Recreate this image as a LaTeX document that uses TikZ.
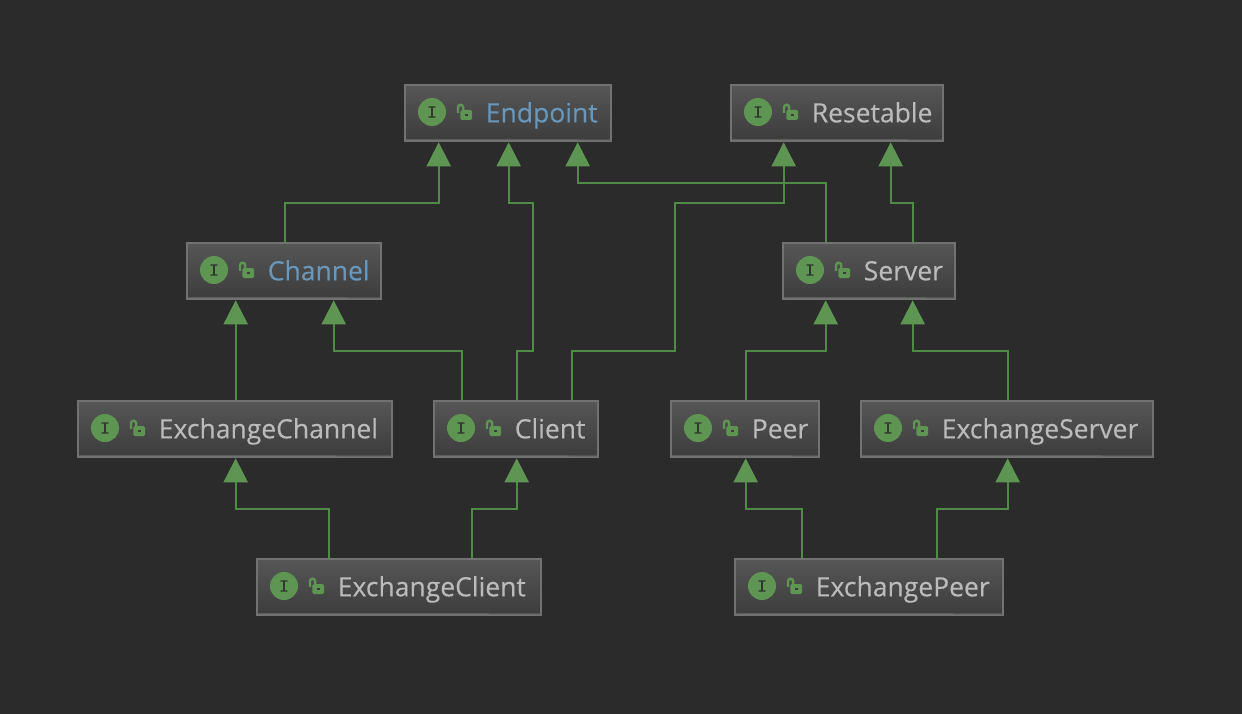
\documentclass[tikz,border=0pt]{standalone}
\usepackage{fontspec}
\setmainfont{Open Sans}
\newfontfamily\labelfont[FakeBold=0.25]{Open Sans}
\newfontfamily\iconfont[FakeBold=0.4]{Liberation Mono}
\usetikzlibrary{arrows.meta}
\definecolor{bgc}{HTML}{2B2B2B}
\definecolor{boxtop}{HTML}{565656}
\definecolor{boxbot}{HTML}{3C3C3C}
\definecolor{boxline}{HTML}{727272}
\definecolor{boxinner}{HTML}{5E5E5E}
\definecolor{plain}{HTML}{BBBBBB}
\definecolor{blueish}{HTML}{6897BB}
\definecolor{greenfill}{HTML}{5F9553}
\definecolor{greenline}{HTML}{4F8A46}
\definecolor{icondark}{HTML}{2F3A2C}
\tikzset{
  umlbox/.style={draw=boxline,line width=2pt,top color=boxtop,bottom color=boxbot,
    anchor=north west,minimum height=56pt,inner sep=0pt},
  iconmark/.style={circle,fill=greenfill,minimum size=28pt,inner sep=0pt,
    text=icondark,font=\iconfont\fontsize{17pt}{17pt}\selectfont},
  umllabel/.style={anchor=base west,inner sep=0pt,font=\labelfont\fontsize{26.5pt}{30pt}\selectfont},
  conn/.style={draw=greenline,line width=2.2pt,-{Triangle[width=24pt,length=24pt,color=greenfill]}},
}
\newcommand{\umlnode}[6]{%
  % name, left, top, width, label, colour
  \node[umlbox,minimum width=#4pt+2pt] (#1) at (#2-.7,#3-.7) {};
  \draw[boxinner,line width=1pt] ([shift={(2,55.2)}]#1.north west) -- ([shift={(-2,-2.5)}]#1.south east);
  \node[iconmark] (#1-icon) at ([shift={(27.7,27.7)}]#1.north west) {I};
  \draw[greenfill,line width=2.4pt] ([shift={(53.7,28.5)}]#1.north west)
     -- ++(0,-5.5) arc[start angle=180,end angle=0,radius=2.6pt] -- ++(0,3);
  \fill[greenfill,rounded corners=1.5pt] ([shift={(56,25.7)}]#1.north west) rectangle ++(11.7,10);
  \fill[boxbot] ([shift={(60.5,29.5)}]#1.north west) rectangle ++(3,2.5);
  \node[umllabel,text=#6] (#1-label) at ([shift={(81.3,38)}]#1.north west) {#5};
}
\begin{document}
\begin{tikzpicture}[x=1pt,y=-1pt]
\useasboundingbox[fill=bgc] (0,0) rectangle (1242,714);
\umlnode{endpoint}{405}{85}{204}{Endpoint}{blueish}
\umlnode{resetable}{731}{85}{210}{Resetable}{plain}
\umlnode{channel}{187}{243}{192}{Channel}{blueish}
\umlnode{server}{783}{243}{170}{Server}{plain}
\umlnode{xchannel}{78}{401}{312}{ExchangeChannel}{plain}
\umlnode{client}{434}{401}{162}{Client}{plain}
\umlnode{peer}{671}{401}{146}{Peer}{plain}
\umlnode{xserver}{861}{401}{290}{ExchangeServer}{plain}
\umlnode{xclient}{257}{559}{282}{ExchangeClient}{plain}
\umlnode{xpeer}{735}{559}{266}{ExchangePeer}{plain}

\draw[conn] ([xshift=98.4pt]channel.north west) -- ++(0,-39.6) -| ([xshift=34.4pt]endpoint.south west);
\draw[conn] ([xshift=83.4pt]client.north west) -- ++(0,-49.6) -- ++(16,0) -- ++(0,-148) -| ([xshift=104.4pt]endpoint.south west);
\draw[conn] ([xshift=43.4pt]server.north west) -- ++(0,-59.6) -| ([xshift=173.4pt]endpoint.south west);
\draw[conn] ([xshift=138.4pt]client.north west) -- ++(0,-49.6) -- ++(103,0) -- ++(0,-148) -| ([xshift=53.4pt]resetable.south west);
\draw[conn] ([xshift=130.4pt]server.north west) -- ++(0,-39.6) -| ([xshift=160.4pt]resetable.south west);
\draw[conn] ([xshift=158.4pt]xchannel.north west) -- ([xshift=49.4pt]channel.south west);
\draw[conn] ([xshift=28.4pt]client.north west) -- ++(0,-49.6) -| ([xshift=147.4pt]channel.south west);
\draw[conn] ([xshift=75.4pt]peer.north west) -- ++(0,-49.6) -| ([xshift=43.4pt]server.south west);
\draw[conn] ([xshift=147.4pt]xserver.north west) -- ++(0,-49.6) -| ([xshift=130.4pt]server.south west);
\draw[conn] ([xshift=72.4pt]xclient.north west) -- ++(0,-49.6) -| ([xshift=158.4pt]xchannel.south west);
\draw[conn] ([xshift=215.4pt]xclient.north west) -- ++(0,-49.6) -| ([xshift=83.4pt]client.south west);
\draw[conn] ([xshift=67.4pt]xpeer.north west) -- ++(0,-49.6) -| ([xshift=75.4pt]peer.south west);
\draw[conn] ([xshift=202.4pt]xpeer.north west) -- ++(0,-49.6) -| ([xshift=147.4pt]xserver.south west);
\end{tikzpicture}
\end{document}
